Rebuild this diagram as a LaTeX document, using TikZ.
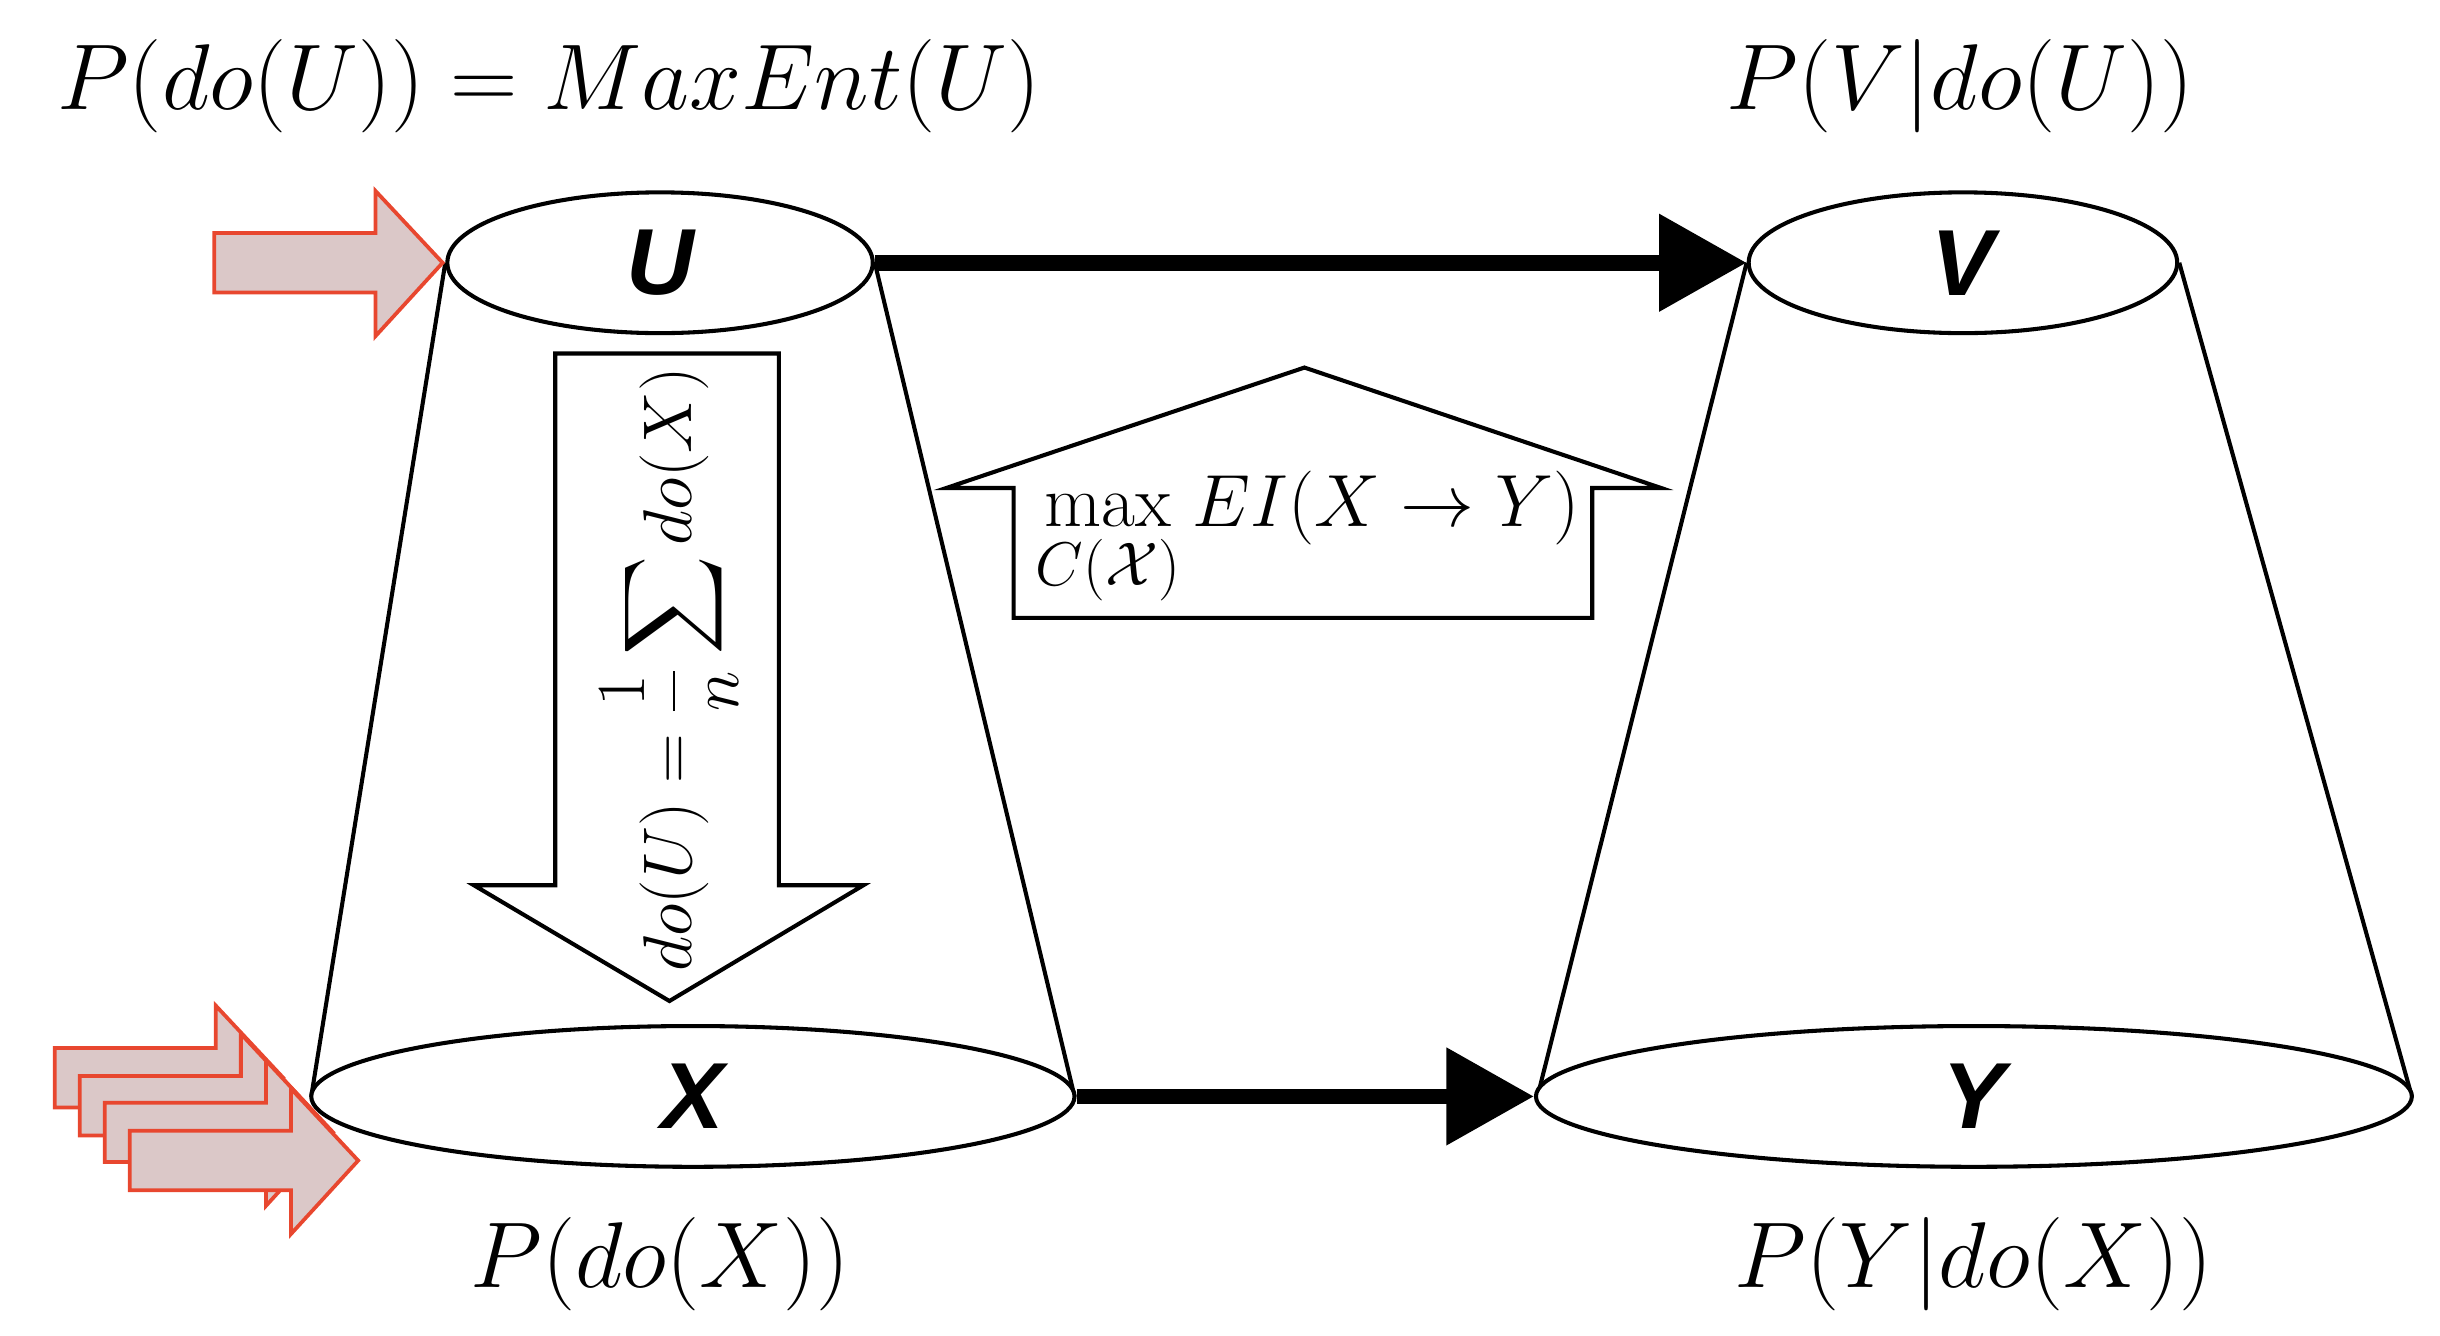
\documentclass[tikz,border=0pt]{standalone}
\usepackage{amsmath}
\usepackage{fontspec}
\newfontfamily\labf{Liberation Sans}
\usetikzlibrary{shapes.geometric,arrows.meta}
\newcommand{\scmath}[2]{\scalebox{#1}{\fontsize{24.88}{30}\selectfont #2}}
\begin{document}
\begin{tikzpicture}[x=0.5pt,y=-0.5pt,
  ell/.style={draw,line width=1.3pt,ellipse,inner sep=0pt,fill=white},
  lab/.style={font=\labf\bfseries\itshape\fontsize{30}{30}\selectfont},
  cone/.style={line width=1.3pt},
  thick/.style={line width=5pt,-{Triangle[length=28pt,width=30pt]}},
  blk/.style={draw,line width=1.3pt,fill=white,line join=miter},
  red/.style={draw={rgb,255:red,232;green,71;blue,47},fill={rgb,255:red,219;green,200;blue,200},line width=1.2pt},
  pics/rarr/.style={code={\path[red] (0,0)--(-43,-46)--(-43,-19)--(-146,-19)--(-146,19)--(-43,19)--(-43,47)--cycle;}}]
\useasboundingbox (0,0) rectangle (1560,854);
% cones
\node[ell,minimum width=136pt,minimum height=45pt] (U) at (422,168) {};
\node[ell,minimum width=137pt,minimum height=45pt] (V) at (1255,168) {};
\draw[cone] (U.west) -- (199,701) coordinate (xl);
\draw[cone] (U.east) -- (687,701) coordinate (xr);
\draw[cone] (V.west) -- (983,701) coordinate (yl);
\draw[cone] (V.east) -- (1542,701) coordinate (yr);
\node[ell,minimum width=244pt,minimum height=45pt] (X) at (443,701) {};
\node[ell,minimum width=280pt,minimum height=45pt] (Y) at (1262,701) {};
\node[lab] at (U) {U};
\node[lab] at (V) {V};
\node[lab] at (X) {X};
\node[lab] at (Y) {Y};
% thick arrows
\draw[thick] (U.east) -- (V.west);
\draw[thick] (X.east) -- (Y.west);
% block arrows
\path[blk] (355,226)--(498,226)--(498,566)--(552,566)--(428,640)--(303,566)--(355,566)--cycle;
\node[rotate=90] (dl) at (428,428) {\scmath{0.885}{$\displaystyle do(U)=\frac{1}{n}\sum do(X)$}};
\path[blk] (834,235)--(1062,312)--(1018,312)--(1018,395)--(648,395)--(648,312)--(605,312)--cycle;
\node (ml) at (836,345) {\scmath{0.95}{$\displaystyle\max_{C(\mathcal{X})} EI(X\to Y)$}};
% red arrows
\pic at (283,168) {rarr};
\pic at (181,689) {rarr};
\pic at (197,707) {rarr};
\pic at (213,724) {rarr};
\pic at (229,742) {rarr};
% labels
\node (t1) at (351,55) {\scmath{1.2}{$P(do(U))=MaxEnt(U)$}};
\node (t2) at (1253,55) {\scmath{1.2}{$P(V|do(U))$}};
\node (t3) at (422,808) {\scmath{1.2}{$P(do(X))$}};
\node (t4) at (1262,808) {\scmath{1.2}{$P(Y|do(X))$}};
\end{tikzpicture}
\end{document}
